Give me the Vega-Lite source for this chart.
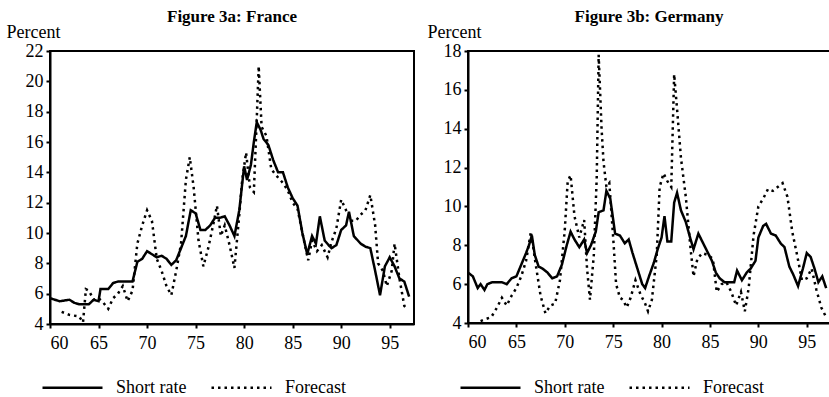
{
  "$schema": "https://vega.github.io/schema/vega-lite/v6.json",
  "padding": {"left": 5, "top": 7, "right": 0, "bottom": 0},
  "background": "white",
  "config": {
    "font": "Liberation Serif",
    "view": {"stroke": "black", "strokeWidth": 2},
    "axis": {
      "domainColor": "black", "domainWidth": 2, "tickColor": "black", "tickWidth": 2, "tickSize": 4,
      "labelFont": "Liberation Serif", "labelFontSize": 18, "labelColor": "black", "grid": false,
      "titleFont": "Liberation Serif", "titleFontSize": 18, "titleFontWeight": "normal", "titleColor": "black"
    },
    "title": {"font": "Liberation Serif", "fontSize": 17, "fontWeight": "bold", "color": "black", "anchor": "middle"},
    "legend": {"labelFont": "Liberation Serif", "labelFontSize": 18, "labelColor": "black"}
  },
  "datasets": {
    "fr": [
      {"s": "Short rate", "year": 60, "v": 5.7}, {"s": "Short rate", "year": 61, "v": 5.5}, {"s": "Short rate", "year": 62, "v": 5.6},
      {"s": "Short rate", "year": 62.5, "v": 5.4}, {"s": "Short rate", "year": 63, "v": 5.3}, {"s": "Short rate", "year": 64, "v": 5.3},
      {"s": "Short rate", "year": 64.5, "v": 5.6}, {"s": "Short rate", "year": 65, "v": 5.5}, {"s": "Short rate", "year": 65.2, "v": 6.3},
      {"s": "Short rate", "year": 66, "v": 6.3}, {"s": "Short rate", "year": 66.5, "v": 6.7}, {"s": "Short rate", "year": 67, "v": 6.8},
      {"s": "Short rate", "year": 68, "v": 6.8}, {"s": "Short rate", "year": 68.5, "v": 6.8}, {"s": "Short rate", "year": 69, "v": 8.1},
      {"s": "Short rate", "year": 69.5, "v": 8.3}, {"s": "Short rate", "year": 70, "v": 8.8}, {"s": "Short rate", "year": 70.5, "v": 8.6},
      {"s": "Short rate", "year": 71, "v": 8.4}, {"s": "Short rate", "year": 71.5, "v": 8.5}, {"s": "Short rate", "year": 72, "v": 8.3},
      {"s": "Short rate", "year": 72.5, "v": 7.9}, {"s": "Short rate", "year": 73, "v": 8.2}, {"s": "Short rate", "year": 73.5, "v": 9.0},
      {"s": "Short rate", "year": 74, "v": 9.8}, {"s": "Short rate", "year": 74.5, "v": 11.5}, {"s": "Short rate", "year": 75, "v": 11.3},
      {"s": "Short rate", "year": 75.5, "v": 10.2}, {"s": "Short rate", "year": 76, "v": 10.2}, {"s": "Short rate", "year": 76.5, "v": 10.5},
      {"s": "Short rate", "year": 77, "v": 11.0}, {"s": "Short rate", "year": 77.5, "v": 11.0}, {"s": "Short rate", "year": 78, "v": 11.1},
      {"s": "Short rate", "year": 78.5, "v": 10.5}, {"s": "Short rate", "year": 79, "v": 9.8}, {"s": "Short rate", "year": 79.5, "v": 11.5},
      {"s": "Short rate", "year": 80, "v": 14.4}, {"s": "Short rate", "year": 80.3, "v": 13.5}, {"s": "Short rate", "year": 80.7, "v": 14.5},
      {"s": "Short rate", "year": 81, "v": 16.0}, {"s": "Short rate", "year": 81.3, "v": 17.3}, {"s": "Short rate", "year": 81.7, "v": 16.8},
      {"s": "Short rate", "year": 82, "v": 16.2}, {"s": "Short rate", "year": 82.5, "v": 15.8}, {"s": "Short rate", "year": 83, "v": 14.8},
      {"s": "Short rate", "year": 83.5, "v": 14.0}, {"s": "Short rate", "year": 84, "v": 14.0}, {"s": "Short rate", "year": 84.5, "v": 13.0},
      {"s": "Short rate", "year": 85, "v": 12.3}, {"s": "Short rate", "year": 85.5, "v": 11.8}, {"s": "Short rate", "year": 86, "v": 10.0},
      {"s": "Short rate", "year": 86.5, "v": 8.6}, {"s": "Short rate", "year": 87, "v": 9.8}, {"s": "Short rate", "year": 87.4, "v": 9.3},
      {"s": "Short rate", "year": 87.8, "v": 11.1}, {"s": "Short rate", "year": 88.3, "v": 9.5}, {"s": "Short rate", "year": 88.7, "v": 9.2},
      {"s": "Short rate", "year": 89, "v": 9.0}, {"s": "Short rate", "year": 89.5, "v": 9.2}, {"s": "Short rate", "year": 90, "v": 10.2},
      {"s": "Short rate", "year": 90.5, "v": 10.5}, {"s": "Short rate", "year": 90.8, "v": 11.4}, {"s": "Short rate", "year": 91.3, "v": 9.8},
      {"s": "Short rate", "year": 92, "v": 9.3}, {"s": "Short rate", "year": 92.5, "v": 9.1}, {"s": "Short rate", "year": 93, "v": 9.0},
      {"s": "Short rate", "year": 93.5, "v": 7.5}, {"s": "Short rate", "year": 94, "v": 5.9}, {"s": "Short rate", "year": 94.5, "v": 7.8},
      {"s": "Short rate", "year": 95, "v": 8.4}, {"s": "Short rate", "year": 95.5, "v": 7.8}, {"s": "Short rate", "year": 96, "v": 7.0},
      {"s": "Short rate", "year": 96.5, "v": 6.8}, {"s": "Short rate", "year": 97, "v": 5.8},
      {"s": "Forecast", "year": 61.2, "v": 4.8}, {"s": "Forecast", "year": 62, "v": 4.6}, {"s": "Forecast", "year": 63, "v": 4.5},
      {"s": "Forecast", "year": 63.4, "v": 4.1}, {"s": "Forecast", "year": 63.7, "v": 6.3}, {"s": "Forecast", "year": 64, "v": 6.2},
      {"s": "Forecast", "year": 64.5, "v": 5.6}, {"s": "Forecast", "year": 65, "v": 5.7}, {"s": "Forecast", "year": 65.5, "v": 5.4},
      {"s": "Forecast", "year": 66, "v": 5.0}, {"s": "Forecast", "year": 66.5, "v": 5.7}, {"s": "Forecast", "year": 67, "v": 6.0},
      {"s": "Forecast", "year": 67.5, "v": 6.5}, {"s": "Forecast", "year": 68, "v": 5.5}, {"s": "Forecast", "year": 68.5, "v": 6.2},
      {"s": "Forecast", "year": 69, "v": 9.3}, {"s": "Forecast", "year": 69.5, "v": 10.5}, {"s": "Forecast", "year": 70, "v": 11.5},
      {"s": "Forecast", "year": 70.5, "v": 10.8}, {"s": "Forecast", "year": 71, "v": 8.3}, {"s": "Forecast", "year": 71.5, "v": 7.5},
      {"s": "Forecast", "year": 72, "v": 6.5}, {"s": "Forecast", "year": 72.5, "v": 5.9}, {"s": "Forecast", "year": 73, "v": 7.5},
      {"s": "Forecast", "year": 73.5, "v": 9.3}, {"s": "Forecast", "year": 74, "v": 13.5}, {"s": "Forecast", "year": 74.4, "v": 15.0},
      {"s": "Forecast", "year": 74.8, "v": 13.0}, {"s": "Forecast", "year": 75.3, "v": 9.5}, {"s": "Forecast", "year": 75.8, "v": 7.8},
      {"s": "Forecast", "year": 76.3, "v": 9.0}, {"s": "Forecast", "year": 76.8, "v": 10.5}, {"s": "Forecast", "year": 77.2, "v": 11.8},
      {"s": "Forecast", "year": 77.6, "v": 9.8}, {"s": "Forecast", "year": 78, "v": 10.5}, {"s": "Forecast", "year": 78.5, "v": 9.2},
      {"s": "Forecast", "year": 79, "v": 7.7}, {"s": "Forecast", "year": 79.5, "v": 11.2}, {"s": "Forecast", "year": 79.8, "v": 13.5},
      {"s": "Forecast", "year": 80.2, "v": 15.3}, {"s": "Forecast", "year": 80.6, "v": 13.0}, {"s": "Forecast", "year": 81, "v": 12.7},
      {"s": "Forecast", "year": 81.3, "v": 17.5}, {"s": "Forecast", "year": 81.5, "v": 21.0}, {"s": "Forecast", "year": 81.8, "v": 17.0},
      {"s": "Forecast", "year": 82.3, "v": 16.4}, {"s": "Forecast", "year": 82.8, "v": 14.2}, {"s": "Forecast", "year": 83.3, "v": 13.8},
      {"s": "Forecast", "year": 84, "v": 13.3}, {"s": "Forecast", "year": 84.5, "v": 12.8}, {"s": "Forecast", "year": 85, "v": 12.0},
      {"s": "Forecast", "year": 85.5, "v": 11.6}, {"s": "Forecast", "year": 86, "v": 10.0}, {"s": "Forecast", "year": 86.6, "v": 8.2},
      {"s": "Forecast", "year": 87, "v": 9.5}, {"s": "Forecast", "year": 87.5, "v": 8.8}, {"s": "Forecast", "year": 88, "v": 9.2},
      {"s": "Forecast", "year": 88.6, "v": 8.4}, {"s": "Forecast", "year": 89, "v": 9.4}, {"s": "Forecast", "year": 89.5, "v": 10.3},
      {"s": "Forecast", "year": 90, "v": 12.2}, {"s": "Forecast", "year": 90.5, "v": 11.5}, {"s": "Forecast", "year": 91, "v": 10.8},
      {"s": "Forecast", "year": 91.5, "v": 10.8}, {"s": "Forecast", "year": 92, "v": 11.2}, {"s": "Forecast", "year": 92.5, "v": 11.5},
      {"s": "Forecast", "year": 93, "v": 12.5}, {"s": "Forecast", "year": 93.5, "v": 10.5}, {"s": "Forecast", "year": 93.8, "v": 8.0},
      {"s": "Forecast", "year": 94.3, "v": 7.5}, {"s": "Forecast", "year": 94.7, "v": 6.5}, {"s": "Forecast", "year": 95.2, "v": 7.5},
      {"s": "Forecast", "year": 95.5, "v": 9.3}, {"s": "Forecast", "year": 96, "v": 7.0}, {"s": "Forecast", "year": 96.5, "v": 5.2},
      {"s": "Forecast", "year": 96.8, "v": 5.0}
    ],
    "de": [
      {"s": "Short rate", "year": 60, "v": 6.6}, {"s": "Short rate", "year": 60.5, "v": 6.4}, {"s": "Short rate", "year": 61, "v": 5.8},
      {"s": "Short rate", "year": 61.3, "v": 6.0}, {"s": "Short rate", "year": 61.7, "v": 5.7}, {"s": "Short rate", "year": 62, "v": 6.0},
      {"s": "Short rate", "year": 62.5, "v": 6.1}, {"s": "Short rate", "year": 63, "v": 6.1}, {"s": "Short rate", "year": 63.5, "v": 6.1},
      {"s": "Short rate", "year": 64, "v": 6.0}, {"s": "Short rate", "year": 64.5, "v": 6.3}, {"s": "Short rate", "year": 65, "v": 6.4},
      {"s": "Short rate", "year": 65.5, "v": 7.0}, {"s": "Short rate", "year": 66, "v": 7.6}, {"s": "Short rate", "year": 66.3, "v": 8.0},
      {"s": "Short rate", "year": 66.6, "v": 8.5}, {"s": "Short rate", "year": 66.9, "v": 7.5}, {"s": "Short rate", "year": 67.3, "v": 6.9},
      {"s": "Short rate", "year": 67.7, "v": 6.8}, {"s": "Short rate", "year": 68.2, "v": 6.6}, {"s": "Short rate", "year": 68.7, "v": 6.3},
      {"s": "Short rate", "year": 69.2, "v": 6.4}, {"s": "Short rate", "year": 69.7, "v": 7.0}, {"s": "Short rate", "year": 70.2, "v": 8.0},
      {"s": "Short rate", "year": 70.6, "v": 8.7}, {"s": "Short rate", "year": 71, "v": 8.3}, {"s": "Short rate", "year": 71.5, "v": 7.9},
      {"s": "Short rate", "year": 72, "v": 8.3}, {"s": "Short rate", "year": 72.3, "v": 7.6}, {"s": "Short rate", "year": 72.7, "v": 8.0},
      {"s": "Short rate", "year": 73.2, "v": 8.7}, {"s": "Short rate", "year": 73.5, "v": 9.7}, {"s": "Short rate", "year": 74, "v": 9.8},
      {"s": "Short rate", "year": 74.3, "v": 10.8}, {"s": "Short rate", "year": 74.7, "v": 10.4}, {"s": "Short rate", "year": 75.2, "v": 8.6},
      {"s": "Short rate", "year": 75.7, "v": 8.5}, {"s": "Short rate", "year": 76.2, "v": 8.1}, {"s": "Short rate", "year": 76.6, "v": 8.3},
      {"s": "Short rate", "year": 77, "v": 7.6}, {"s": "Short rate", "year": 77.5, "v": 6.8}, {"s": "Short rate", "year": 78, "v": 6.0},
      {"s": "Short rate", "year": 78.3, "v": 5.8}, {"s": "Short rate", "year": 78.7, "v": 6.4}, {"s": "Short rate", "year": 79.2, "v": 7.1},
      {"s": "Short rate", "year": 79.6, "v": 7.8}, {"s": "Short rate", "year": 80, "v": 8.4}, {"s": "Short rate", "year": 80.3, "v": 9.5},
      {"s": "Short rate", "year": 80.6, "v": 8.2}, {"s": "Short rate", "year": 81, "v": 8.2}, {"s": "Short rate", "year": 81.3, "v": 10.2},
      {"s": "Short rate", "year": 81.6, "v": 10.7}, {"s": "Short rate", "year": 82, "v": 9.8}, {"s": "Short rate", "year": 82.5, "v": 9.2},
      {"s": "Short rate", "year": 83, "v": 8.3}, {"s": "Short rate", "year": 83.3, "v": 7.8}, {"s": "Short rate", "year": 83.8, "v": 8.6},
      {"s": "Short rate", "year": 84.3, "v": 8.1}, {"s": "Short rate", "year": 84.8, "v": 7.6}, {"s": "Short rate", "year": 85.2, "v": 7.2},
      {"s": "Short rate", "year": 85.6, "v": 6.6}, {"s": "Short rate", "year": 86, "v": 6.3}, {"s": "Short rate", "year": 86.5, "v": 6.1},
      {"s": "Short rate", "year": 87, "v": 6.1}, {"s": "Short rate", "year": 87.5, "v": 6.1}, {"s": "Short rate", "year": 87.8, "v": 6.7},
      {"s": "Short rate", "year": 88.3, "v": 6.2}, {"s": "Short rate", "year": 88.8, "v": 6.6}, {"s": "Short rate", "year": 89.2, "v": 6.8},
      {"s": "Short rate", "year": 89.7, "v": 7.2}, {"s": "Short rate", "year": 90, "v": 8.4}, {"s": "Short rate", "year": 90.5, "v": 9.0},
      {"s": "Short rate", "year": 90.8, "v": 9.1}, {"s": "Short rate", "year": 91.3, "v": 8.6}, {"s": "Short rate", "year": 91.8, "v": 8.5},
      {"s": "Short rate", "year": 92.3, "v": 8.1}, {"s": "Short rate", "year": 92.7, "v": 7.9}, {"s": "Short rate", "year": 93.2, "v": 6.9},
      {"s": "Short rate", "year": 93.6, "v": 6.5}, {"s": "Short rate", "year": 94.1, "v": 5.9}, {"s": "Short rate", "year": 94.6, "v": 6.8},
      {"s": "Short rate", "year": 95, "v": 7.6}, {"s": "Short rate", "year": 95.4, "v": 7.4}, {"s": "Short rate", "year": 95.8, "v": 6.8},
      {"s": "Short rate", "year": 96.2, "v": 6.1}, {"s": "Short rate", "year": 96.6, "v": 6.4}, {"s": "Short rate", "year": 97, "v": 5.8},
      {"s": "Forecast", "year": 61.3, "v": 4.1}, {"s": "Forecast", "year": 61.8, "v": 4.2}, {"s": "Forecast", "year": 62.4, "v": 4.3},
      {"s": "Forecast", "year": 63, "v": 4.8}, {"s": "Forecast", "year": 63.5, "v": 5.3}, {"s": "Forecast", "year": 64, "v": 4.9},
      {"s": "Forecast", "year": 64.5, "v": 5.4}, {"s": "Forecast", "year": 65, "v": 5.8}, {"s": "Forecast", "year": 65.5, "v": 6.4},
      {"s": "Forecast", "year": 66, "v": 7.2}, {"s": "Forecast", "year": 66.5, "v": 8.7}, {"s": "Forecast", "year": 67, "v": 7.0},
      {"s": "Forecast", "year": 67.5, "v": 5.4}, {"s": "Forecast", "year": 68, "v": 4.5}, {"s": "Forecast", "year": 68.5, "v": 4.9},
      {"s": "Forecast", "year": 69, "v": 5.0}, {"s": "Forecast", "year": 69.5, "v": 6.2}, {"s": "Forecast", "year": 70, "v": 8.8},
      {"s": "Forecast", "year": 70.3, "v": 11.3}, {"s": "Forecast", "year": 70.6, "v": 11.6}, {"s": "Forecast", "year": 71, "v": 9.5},
      {"s": "Forecast", "year": 71.5, "v": 8.4}, {"s": "Forecast", "year": 72, "v": 9.3}, {"s": "Forecast", "year": 72.3, "v": 6.8},
      {"s": "Forecast", "year": 72.6, "v": 5.2}, {"s": "Forecast", "year": 73, "v": 7.5}, {"s": "Forecast", "year": 73.3, "v": 11.5},
      {"s": "Forecast", "year": 73.5, "v": 17.8}, {"s": "Forecast", "year": 73.8, "v": 14.0}, {"s": "Forecast", "year": 74, "v": 12.3},
      {"s": "Forecast", "year": 74.3, "v": 11.0}, {"s": "Forecast", "year": 74.6, "v": 11.2}, {"s": "Forecast", "year": 75, "v": 8.4},
      {"s": "Forecast", "year": 75.3, "v": 6.0}, {"s": "Forecast", "year": 75.7, "v": 5.3}, {"s": "Forecast", "year": 76, "v": 5.2},
      {"s": "Forecast", "year": 76.4, "v": 4.8}, {"s": "Forecast", "year": 76.8, "v": 5.3}, {"s": "Forecast", "year": 77.3, "v": 6.2},
      {"s": "Forecast", "year": 77.8, "v": 5.5}, {"s": "Forecast", "year": 78.3, "v": 5.0}, {"s": "Forecast", "year": 78.6, "v": 4.6},
      {"s": "Forecast", "year": 79, "v": 5.2}, {"s": "Forecast", "year": 79.5, "v": 7.5}, {"s": "Forecast", "year": 79.8, "v": 11.0},
      {"s": "Forecast", "year": 80.2, "v": 11.7}, {"s": "Forecast", "year": 80.6, "v": 11.3}, {"s": "Forecast", "year": 81, "v": 11.0},
      {"s": "Forecast", "year": 81.3, "v": 16.8}, {"s": "Forecast", "year": 81.6, "v": 15.0}, {"s": "Forecast", "year": 82, "v": 12.5},
      {"s": "Forecast", "year": 82.5, "v": 10.5}, {"s": "Forecast", "year": 83, "v": 7.8}, {"s": "Forecast", "year": 83.3, "v": 6.4},
      {"s": "Forecast", "year": 83.7, "v": 7.3}, {"s": "Forecast", "year": 84.2, "v": 7.6}, {"s": "Forecast", "year": 84.8, "v": 7.5},
      {"s": "Forecast", "year": 85.3, "v": 7.3}, {"s": "Forecast", "year": 85.7, "v": 5.6}, {"s": "Forecast", "year": 86.2, "v": 6.0},
      {"s": "Forecast", "year": 86.7, "v": 6.1}, {"s": "Forecast", "year": 87.2, "v": 5.6}, {"s": "Forecast", "year": 87.7, "v": 4.9},
      {"s": "Forecast", "year": 88.2, "v": 5.6}, {"s": "Forecast", "year": 88.6, "v": 4.6}, {"s": "Forecast", "year": 89, "v": 5.8},
      {"s": "Forecast", "year": 89.5, "v": 8.5}, {"s": "Forecast", "year": 90, "v": 10.0}, {"s": "Forecast", "year": 90.5, "v": 10.4},
      {"s": "Forecast", "year": 91, "v": 10.9}, {"s": "Forecast", "year": 91.5, "v": 10.8}, {"s": "Forecast", "year": 92, "v": 11.0},
      {"s": "Forecast", "year": 92.5, "v": 11.2}, {"s": "Forecast", "year": 93, "v": 10.5}, {"s": "Forecast", "year": 93.5, "v": 8.7},
      {"s": "Forecast", "year": 94, "v": 7.5}, {"s": "Forecast", "year": 94.5, "v": 6.2}, {"s": "Forecast", "year": 95, "v": 6.3},
      {"s": "Forecast", "year": 95.5, "v": 6.8}, {"s": "Forecast", "year": 96, "v": 5.7}, {"s": "Forecast", "year": 96.5, "v": 4.8},
      {"s": "Forecast", "year": 97, "v": 4.3}
    ]
  },
  "hconcat": [
    {
      "title": {"text": "Figure 3a: France", "offset": -3},
      "width": 364, "height": 273,
      "data": {"name": "fr"},
      "mark": {"type": "line", "strokeWidth": 2.5, "color": "black", "clip": true},
      "encoding": {
        "x": {"field": "year", "type": "quantitative", "scale": {"domain": [60, 97.5], "nice": false, "zero": false},
              "axis": {"values": [60, 65, 70, 75, 80, 85, 90, 95], "format": "d", "title": null, "labelPadding": 6}},
        "y": {"field": "v", "type": "quantitative", "scale": {"domain": [4, 22], "nice": false, "zero": false},
              "axis": {"values": [4, 6, 8, 10, 12, 14, 16, 18, 20, 22], "title": "Percent", "titleAngle": 0, "titleAlign": "left",
                       "titleBaseline": "alphabetic", "titleX": -44, "titleY": -14, "labelPadding": 3}},
        "strokeDash": {"field": "s", "type": "nominal",
          "scale": {"domain": ["Short rate", "Forecast"], "range": [[1, 0], [2.5, 4]]},
          "legend": {"title": null, "orient": "none", "legendX": -9, "legendY": 305, "direction": "horizontal",
                     "symbolType": "stroke", "symbolSize": 3600, "symbolStrokeWidth": 2.5, "symbolStrokeColor": "black",
                     "labelOffset": 12, "columnPadding": 19, "padding": 0}}
      }
    },
    {
      "title": {"text": "Figure 3b: Germany", "offset": -3},
      "width": 362, "height": 272,
      "data": {"name": "de"},
      "mark": {"type": "line", "strokeWidth": 2.5, "color": "black", "clip": true},
      "encoding": {
        "x": {"field": "year", "type": "quantitative", "scale": {"domain": [60, 97.4], "nice": false, "zero": false},
              "axis": {"values": [60, 65, 70, 75, 80, 85, 90, 95], "format": "d", "title": null, "labelPadding": 6}},
        "y": {"field": "v", "type": "quantitative", "scale": {"domain": [4, 18], "nice": false, "zero": false},
              "axis": {"values": [4, 6, 8, 10, 12, 14, 16, 18], "title": "Percent", "titleAngle": 0, "titleAlign": "left",
                       "titleBaseline": "alphabetic", "titleX": -41, "titleY": -14, "labelPadding": 3}},
        "strokeDash": {"field": "s", "type": "nominal",
          "scale": {"domain": ["Short rate", "Forecast"], "range": [[1, 0], [2.5, 4]]},
          "legend": {"title": null, "orient": "none", "legendX": -9, "legendY": 305, "direction": "horizontal",
                     "symbolType": "stroke", "symbolSize": 3600, "symbolStrokeWidth": 2.5, "symbolStrokeColor": "black",
                     "labelOffset": 12, "columnPadding": 19, "padding": 0}}
      }
    }
  ],
  "spacing": 11,
  "resolve": {"scale": {"strokeDash": "independent", "x": "independent", "y": "independent"}, "legend": {"strokeDash": "independent"}}
}
